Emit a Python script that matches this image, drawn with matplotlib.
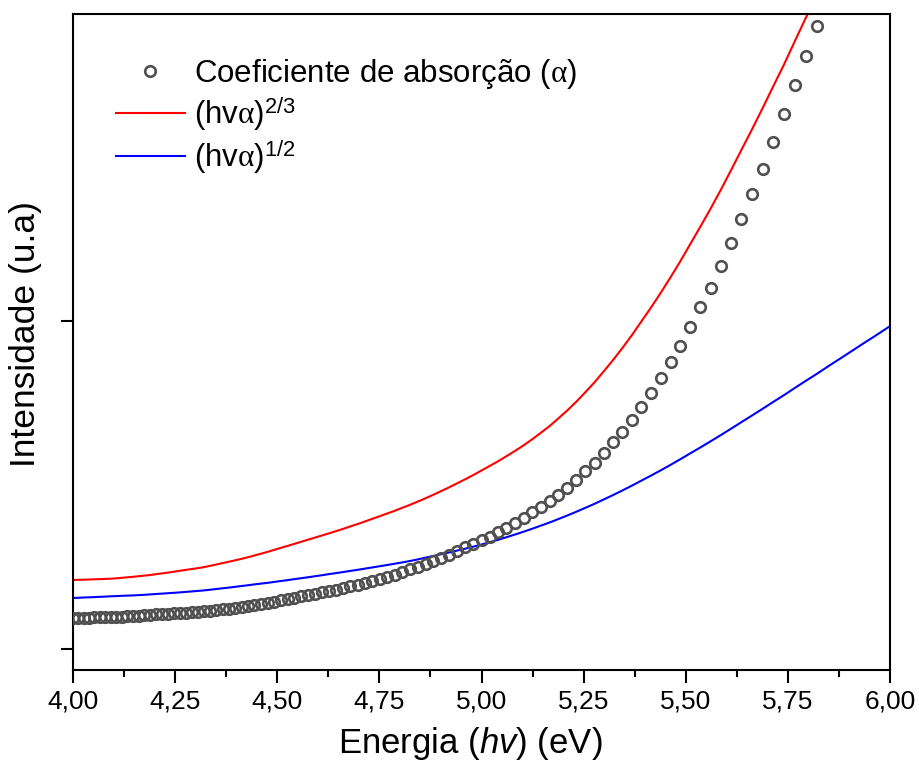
import matplotlib
matplotlib.use("Agg")
import matplotlib.pyplot as plt
from matplotlib.ticker import FixedLocator, FuncFormatter, MultipleLocator

plt.rcParams['font.family'] = ['Liberation Sans', 'DejaVu Sans']
plt.rcParams['mathtext.fontset'] = 'custom'
plt.rcParams['mathtext.rm'] = 'Liberation Sans'
plt.rcParams['mathtext.it'] = 'Liberation Serif'
plt.rcParams['mathtext.sf'] = 'Liberation Sans:italic'

# Photon energy (eV) of each measured point (1 nm steps from 310 nm to 206 nm)
energy_ev = [4.000, 4.013, 4.026, 4.039, 4.052, 4.066, 4.079, 4.092, 4.106, 4.120,
             4.133, 4.147, 4.161, 4.175, 4.189, 4.203, 4.218, 4.232, 4.247, 4.261,
             4.276, 4.291, 4.306, 4.321, 4.336, 4.351, 4.366, 4.382, 4.397, 4.413,
             4.429, 4.444, 4.460, 4.477, 4.493, 4.509, 4.526, 4.542, 4.559, 4.576,
             4.593, 4.610, 4.627, 4.644, 4.662, 4.679, 4.697, 4.715, 4.733, 4.751,
             4.769, 4.788, 4.806, 4.825, 4.844, 4.863, 4.882, 4.901, 4.921, 4.940,
             4.960, 4.980, 5.000, 5.020, 5.041, 5.061, 5.082, 5.103, 5.124, 5.145,
             5.167, 5.188, 5.210, 5.232, 5.254, 5.277, 5.299, 5.322, 5.345, 5.368,
             5.391, 5.415, 5.439, 5.463, 5.487, 5.511, 5.536, 5.561, 5.586, 5.611,
             5.636, 5.662, 5.688, 5.714, 5.741, 5.767, 5.794, 5.822, 5.849, 5.877,
             5.905, 5.933, 5.962, 5.990, 6.019]

# Absorption coefficient (a.u.), visible points up to 5.82 eV
alpha_coef = [0.0945, 0.0948, 0.0954, 0.0957, 0.0963, 0.0966, 0.0973, 0.0976, 0.0982, 0.0988,
              0.0994, 0.1006, 0.1018, 0.1030, 0.1046, 0.1058, 0.1067, 0.1076, 0.1088, 0.1098,
              0.1110, 0.1125, 0.1137, 0.1152, 0.1171, 0.1189, 0.1207, 0.1229, 0.1253, 0.1280,
              0.1311, 0.1341, 0.1372, 0.1409, 0.1445, 0.1485, 0.1524, 0.1564, 0.1604, 0.1646,
              0.1689, 0.1729, 0.1768, 0.1811, 0.1860, 0.1915, 0.1966, 0.2018, 0.2073, 0.2134,
              0.2195, 0.2271, 0.2354, 0.2430, 0.2506, 0.2585, 0.2668, 0.2774, 0.2881, 0.2988,
              0.3095, 0.3201, 0.3314, 0.3430, 0.3555, 0.3689, 0.3841, 0.4000, 0.4162, 0.4329,
              0.4503, 0.4701, 0.4921, 0.5155, 0.5412, 0.5677, 0.5966, 0.6296, 0.6631, 0.6997,
              0.7393, 0.7820, 0.8250, 0.8735, 0.9253, 0.9817, 1.0421, 1.1021, 1.1662, 1.2378,
              1.3116, 1.3878, 1.4649, 1.5457, 1.6311, 1.7195, 1.8079, 1.8994]

# (h nu alpha)^(2/3), scaled (a.u.), up to 5.82 eV
tauc_23 = [0.2104, 0.2110, 0.2113, 0.2119, 0.2125, 0.2131, 0.2137, 0.2143, 0.2155, 0.2171,
           0.2186, 0.2201, 0.2220, 0.2238, 0.2256, 0.2280, 0.2305, 0.2329, 0.2357, 0.2384,
           0.2412, 0.2439, 0.2466, 0.2497, 0.2537, 0.2576, 0.2619, 0.2662, 0.2704, 0.2750,
           0.2799, 0.2851, 0.2905, 0.2963, 0.3024, 0.3085, 0.3146, 0.3207, 0.3271, 0.3335,
           0.3399, 0.3463, 0.3527, 0.3595, 0.3665, 0.3738, 0.3811, 0.3890, 0.3970, 0.4049,
           0.4131, 0.4216, 0.4305, 0.4396, 0.4494, 0.4595, 0.4701, 0.4814, 0.4930, 0.5049,
           0.5174, 0.5305, 0.5441, 0.5581, 0.5726, 0.5878, 0.6039, 0.6210, 0.6393, 0.6589,
           0.6800, 0.7028, 0.7274, 0.7539, 0.7826, 0.8136, 0.8462, 0.8809, 0.9178, 0.9566,
           0.9980, 1.0411, 1.0864, 1.1338, 1.1827, 1.2344, 1.2881, 1.3430, 1.4003, 1.4600,
           1.5210, 1.5838, 1.6485, 1.7150, 1.7832, 1.8530, 1.9244, 1.9973]

# (h nu alpha)^(1/2), scaled (a.u.), full range
tauc_12 = [0.1555, 0.1561, 0.1570, 0.1576, 0.1582, 0.1591, 0.1598, 0.1607, 0.1613, 0.1622,
           0.1628, 0.1634, 0.1643, 0.1652, 0.1665, 0.1677, 0.1689, 0.1701, 0.1713, 0.1726,
           0.1741, 0.1756, 0.1771, 0.1787, 0.1808, 0.1829, 0.1851, 0.1872, 0.1896, 0.1921,
           0.1945, 0.1970, 0.1994, 0.2018, 0.2046, 0.2073, 0.2101, 0.2131, 0.2159, 0.2189,
           0.2220, 0.2250, 0.2284, 0.2314, 0.2348, 0.2381, 0.2415, 0.2451, 0.2488, 0.2524,
           0.2561, 0.2601, 0.2640, 0.2683, 0.2732, 0.2784, 0.2835, 0.2890, 0.2945, 0.3000,
           0.3058, 0.3120, 0.3186, 0.3256, 0.3330, 0.3408, 0.3490, 0.3576, 0.3666, 0.3760,
           0.3858, 0.3961, 0.4070, 0.4184, 0.4303, 0.4428, 0.4558, 0.4693, 0.4834, 0.4980,
           0.5131, 0.5287, 0.5449, 0.5616, 0.5788, 0.5965, 0.6147, 0.6333, 0.6523, 0.6717,
           0.6915, 0.7117, 0.7323, 0.7532, 0.7744, 0.7959, 0.8177, 0.8398, 0.8621, 0.8846,
           0.9073, 0.9302, 0.9532, 0.9762, 0.9994]

x_ticks = [4.00, 4.25, 4.50, 4.75, 5.00, 5.25, 5.50, 5.75, 6.00]
y_ticks = [0, 1]

labels = ['Coeficiente de absorção ($\\alpha$)',
          '(hv$\\alpha$)$^{2/3}$',
          '(hv$\\alpha$)$^{1/2}$']

fig = plt.figure(figsize=(9.19, 7.61), dpi=100)
ax = fig.add_axes([73/919, 1 - 670/761, (890 - 73)/919, (670 - 14)/761])

n_a = len(alpha_coef)
n_r = len(tauc_23)
ax.plot(energy_ev[:n_a], alpha_coef, linestyle='none', marker='o', markersize=7.6,
        markerfacecolor='none', markeredgecolor='#505050', markeredgewidth=1.9,
        label=labels[0], zorder=3)
ax.plot(energy_ev[:n_r], tauc_23, color='#ff0000', linewidth=1.5, label=labels[1])
ax.plot(energy_ev, tauc_12, color='#0000ff', linewidth=1.5, label=labels[2])

ax.set_xlim(4.0, 6.0)
ax.set_ylim(-0.064, 1.936)
ax.xaxis.set_major_locator(FixedLocator(x_ticks))
ax.xaxis.set_minor_locator(MultipleLocator(0.125))
ax.xaxis.set_major_formatter(FuncFormatter(lambda v, p: f"{v:.2f}".replace('.', ',')))
ax.yaxis.set_major_locator(FixedLocator(y_ticks))
ax.set_yticklabels([])

for s in ax.spines.values():
    s.set_linewidth(1.5)
ax.tick_params(axis='both', which='major', direction='out', length=9, width=1.5,
               labelsize=19, pad=5, top=False, right=False)
ax.tick_params(axis='x', which='minor', direction='out', length=5, width=1.5, top=False)

ax.set_xlabel('Energia ($\\mathsf{hv}$) (eV)', fontsize=25, labelpad=8)
ax.xaxis.label.set_x((470 - 73) / 817)
ax.set_ylabel('Intensidade (u.a)', fontsize=25.5, labelpad=8)
ax.yaxis.label.set_y((670 - 334) / 656)

leg = ax.legend(loc='upper left', bbox_to_anchor=(43/817, 1 - 43/656), frameon=False,
                fontsize=22.5, handlelength=2.2, handletextpad=0.3, labelspacing=0.15,
                borderpad=0, borderaxespad=0, numpoints=1)

fig.savefig('out.png', dpi=100)
